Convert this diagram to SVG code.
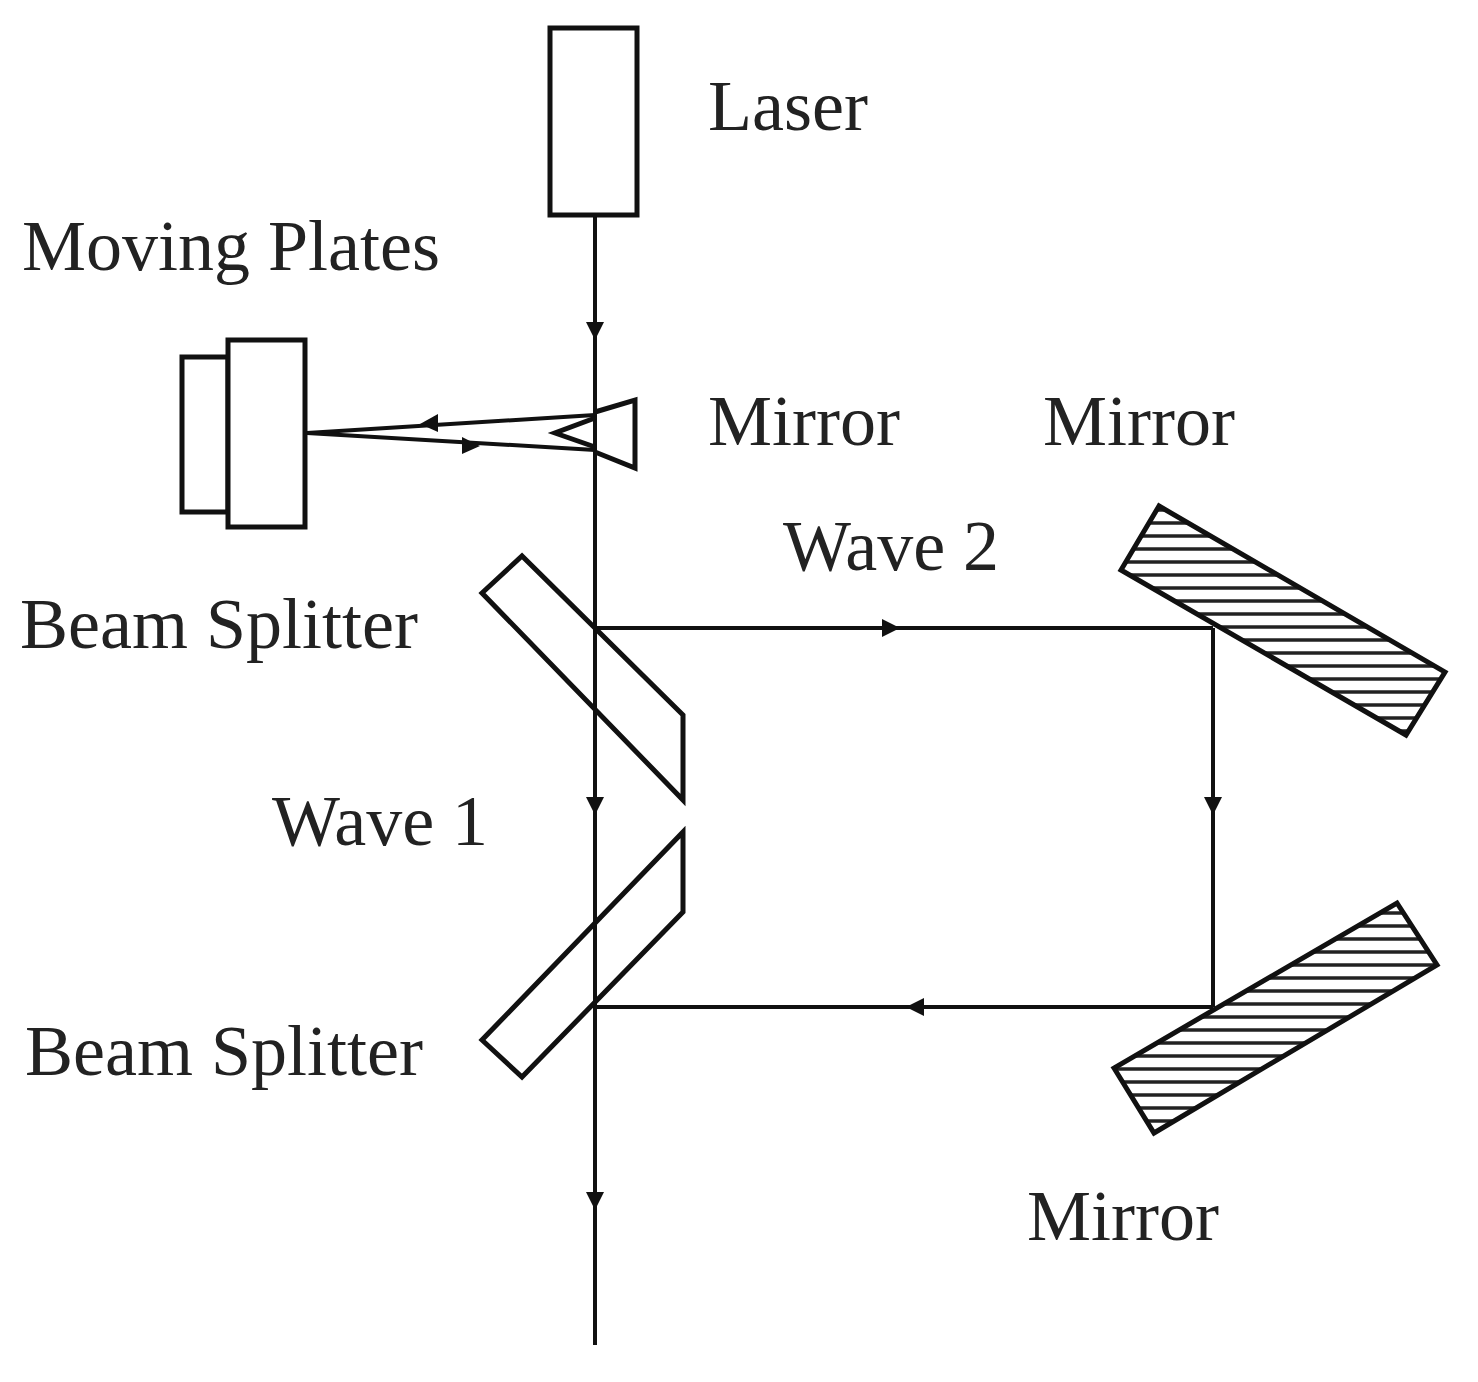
<svg xmlns="http://www.w3.org/2000/svg" width="1478" height="1382" viewBox="0 0 1478 1382">
<style>
.s{fill:#fff;stroke:#111;stroke-width:5;stroke-linejoin:miter}
.h{fill:url(#hatch);stroke:#111;stroke-width:5}
.l{fill:none;stroke:#111;stroke-width:4}
text{font-family:"Liberation Serif",serif;font-size:72px;fill:#222}
</style>
<defs>
<pattern id="hatch" patternUnits="userSpaceOnUse" width="20" height="13">
<rect width="20" height="13" fill="#fff"/>
<line x1="0" y1="3" x2="20" y2="3" stroke="#222" stroke-width="3.5"/>
</pattern>
</defs>
<rect width="1478" height="1382" fill="#fff"/>
<g id="connectors">
<line class="l" x1="595" y1="215" x2="595" y2="1345"/>
<line class="l" x1="595" y1="628" x2="1213" y2="628"/>
<line class="l" x1="1213" y1="628" x2="1213" y2="1007"/>
<line class="l" x1="1213" y1="1007" x2="595" y2="1007"/>
<line class="l" x1="595" y1="415" x2="307" y2="433"/>
<line class="l" x1="307" y1="433" x2="595" y2="450"/>
<path d="M586,322 L604,322 L595,340 Z" fill="#111"/>
<path d="M586,797 L604,797 L595,815 Z" fill="#111"/>
<path d="M586,1192 L604,1192 L595,1210 Z" fill="#111"/>
<path d="M1204,797 L1222,797 L1213,815 Z" fill="#111"/>
<path d="M882,619 L900,628 L882,637 Z" fill="#111"/>
<path d="M924,998 L906,1007 L924,1016 Z" fill="#111"/>
<path d="M438,414 L420,424 L438,432 Z" fill="#111"/>
<path d="M462,437 L480,446 L462,454 Z" fill="#111"/>
</g>
<g id="laser"><rect class="s" x="550" y="28" width="87" height="187"/><text x="708" y="130">Laser</text></g>
<g id="moving-plates"><rect class="s" x="182" y="357" width="46" height="155"/><rect class="s" x="228" y="340" width="77" height="187"/><text x="22" y="270">Moving Plates</text></g>
<g id="mirror-top"><path class="l" d="M595,412 L635,400 L635,468 L595,452 M595,418 L555,433 L595,447" style="stroke-width:5"/><text x="708" y="445">Mirror</text></g>
<g id="beam-splitter-1"><polygon class="s" style="fill:none" points="482,593 522,556 683,715 683,800"/><text x="20" y="648">Beam Splitter</text></g>
<g id="beam-splitter-2"><polygon class="s" style="fill:none" points="683,832 683,912 522,1077 482,1040"/><text x="25" y="1075">Beam Splitter</text></g>
<g id="mirror-right-top"><polygon class="h" points="1159,506 1121,570 1406,735 1445,672"/><text x="1043" y="445">Mirror</text></g>
<g id="mirror-right-bottom"><polygon class="h" points="1114,1068 1154,1133 1437,965 1397,903"/><text x="1027" y="1240">Mirror</text></g>
<text x="783" y="570">Wave 2</text>
<text x="272" y="845">Wave 1</text>
</svg>
